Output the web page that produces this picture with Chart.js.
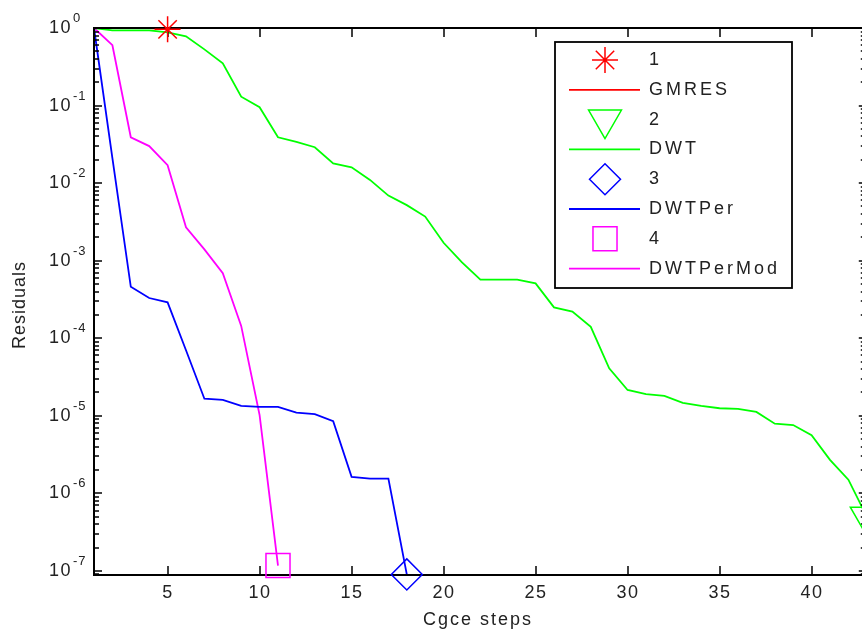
<!DOCTYPE html>
<html>
<head>
<meta charset="utf-8">
<title>Residuals</title>
<script src="https://cdn.jsdelivr.net/npm/chart.js@4.4.0/dist/chart.umd.min.js"></script>
<style>
  html, body {margin: 0; padding: 0; background: #fff;}
</style>
</head>
<body>
<canvas id="residual_plot" width="862" height="633"></canvas>
<script>
/*------------------------------------------------------*/
/**
 * @file residuals.html
 */
/*------------------------------------------------------*/

// iteration numbers and residuals per method
const gmres_steps = [1, 2, 3, 4, 5];
const gmres_res   = [1, 1, 1, 1, 0.96];

const dwt_steps = [1, 2, 3, 4, 5, 6, 7, 8, 9, 10, 11, 12, 13, 14, 15, 16, 17, 18, 19, 20, 21,
                   22, 23, 24, 25, 26, 27, 28, 29, 30, 31, 32, 33, 34, 35, 36, 37, 38, 39, 40, 41, 42, 43];
const dwt_res   = [1, 0.93, 0.93, 0.93, 0.88, 0.78, 0.53, 0.35, 0.13, 0.095, 0.039, 0.034, 0.029,
                   0.018, 0.016, 0.011, 0.0069, 0.0052, 0.0037, 0.0017, 0.00095, 0.00057, 0.00057,
                   0.00057, 0.00051, 0.00025, 0.00022, 0.00014, 4.1e-5, 2.15e-5, 1.9e-5, 1.8e-5,
                   1.47e-5, 1.34e-5, 1.25e-5, 1.23e-5, 1.12e-5, 7.9e-6, 7.6e-6, 5.6e-6, 2.7e-6,
                   1.5e-6, 5e-7];

const dwtper_steps = [1, 2, 3, 4, 5, 6, 7, 8, 9, 10, 11, 12, 13, 14, 15, 16, 17, 18];
const dwtper_res   = [1, 0.021, 4.6e-4, 3.3e-4, 2.9e-4, 7e-5, 1.66e-5, 1.6e-5, 1.34e-5, 1.3e-5,
                      1.3e-5, 1.1e-5, 1.05e-5, 8.5e-6, 1.63e-6, 1.55e-6, 1.55e-6, 9e-8];

const dwtpermod_steps = [1, 2, 3, 4, 5, 6, 7, 8, 9, 10, 11];
const dwtpermod_res   = [1, 0.6, 0.039, 0.03, 0.017, 0.0027, 0.0014, 6.9e-4, 1.44e-4, 1.02e-5, 1.17e-7];

// axis ticks; the figure is cropped just before the right axis at step 43
const x_ticks = [5, 10, 15, 20, 25, 30, 35, 40];
const x_axis_end = 43;
const y_exponents = [0, -1, -2, -3, -4, -5, -6, -7];

// legend labels, in the order MATLAB listed them
const legend_labels = ['1', 'GMRES', '2', 'DWT', '3', 'DWTPer', '4', 'DWTPerMod'];

/**
 * @name to_points
 * @description zip steps and residuals into {x, y}
 */
const to_points = (steps, values) => steps.map((s, i) => ({x: s, y: values[i]}));
const last_point = (steps, values) => to_points(steps, values).slice(-1);

const line_w = 1.8;
const text_color = '#222';
const font_face = '"Liberation Sans", Arial, sans-serif';

/**
 * @name marker_set / line_set
 * @description marker-only dataset at the last iterate, and the plain line
 */
const marker_set = (label, pts, color, style, radius, rotation) => ({
    label: label, data: pts, showLine: false, order: 1, clip: false,
    borderColor: color, backgroundColor: 'rgba(0,0,0,0)',
    pointStyle: style, pointRadius: radius, pointRotation: rotation || 0,
    pointBorderWidth: 1.5, pointBorderColor: color, pointBackgroundColor: 'rgba(0,0,0,0)'
});
const line_set = (label, pts, color) => ({
    label: label, data: pts, borderColor: color, borderWidth: line_w, order: 2, clip: false,
    pointRadius: 0, tension: 0, fill: false
});

const datasets = [
    marker_set(legend_labels[0], last_point(gmres_steps, gmres_res), '#ff0000', 'star', 13),
    line_set(legend_labels[1], to_points(gmres_steps, gmres_res), '#ff0000'),
    marker_set(legend_labels[2], last_point(dwt_steps, dwt_res), '#00ff00', 'triangle', 19, 180),
    line_set(legend_labels[3], to_points(dwt_steps, dwt_res), '#00ff00'),
    marker_set(legend_labels[4], last_point(dwtper_steps, dwtper_res), '#0000ff', 'rectRot', 15.5),
    line_set(legend_labels[5], to_points(dwtper_steps, dwtper_res), '#0000ff'),
    marker_set(legend_labels[6], last_point(dwtpermod_steps, dwtpermod_res), '#ff00ff', 'rect', 17),
    line_set(legend_labels[7], to_points(dwtpermod_steps, dwtpermod_res), '#ff00ff')
];

/**
 * @name put_text
 * @description canvas text with the wide MATLAB letter spacing
 */
function put_text(ctx, text, x, y, size, align, gap) {
    ctx.font = size + 'px ' + font_face;
    ctx.letterSpacing = (gap === undefined ? 1.5 : gap) + 'px';
    ctx.textAlign = align;
    ctx.textBaseline = 'middle';
    ctx.fillStyle = text_color;
    ctx.fillText(text, x, y);
}

const seg = (ctx, x1, y1, x2, y2) => { ctx.beginPath(); ctx.moveTo(x1, y1); ctx.lineTo(x2, y2); ctx.stroke(); };

/**
 * @name draw_frame
 * @description box (right side falls off the canvas), inward ticks and tick labels
 */
function draw_frame(chart) {
    const ctx = chart.ctx;
    const a = chart.chartArea;
    const xs = chart.scales.x;
    const ys = chart.scales.y;
    const right = xs.getPixelForValue(x_axis_end);
    ctx.save();
    ctx.strokeStyle = '#000';
    ctx.lineWidth = 2;
    ctx.strokeRect(a.left, a.top, right - a.left, a.bottom - a.top);

    // x ticks top and bottom
    ctx.lineWidth = 1.5;
    x_ticks.forEach(v => {
        const px = Math.round(xs.getPixelForValue(v));
        seg(ctx, px, a.bottom, px, a.bottom - 9);
        seg(ctx, px, a.top, px, a.top + 9);
        put_text(ctx, String(v), px, 593, 18, 'center', 1.5);
    });

    // y ticks, majors and log minors, left and right
    y_exponents.forEach(e => {
        const py = Math.round(ys.getPixelForValue(Math.pow(10, e)));
        seg(ctx, a.left, py, a.left + 8, py);
        seg(ctx, right, py, right - 8, py);
        put_text(ctx, '10', 72, py, 18, 'right', 1.5);
        put_text(ctx, String(e), 73, py - 10, 13, 'left', 1);
        [2, 3, 4, 5, 6, 7, 8, 9].forEach(m => {
            const v = m * Math.pow(10, e - 1);
            if (v < ys.min) return;
            const pm = Math.round(ys.getPixelForValue(v));
            seg(ctx, a.left, pm, a.left + 5, pm);
            seg(ctx, right, pm, right - 6, pm);
        });
    });

    // axis titles
    put_text(ctx, 'Cgce steps', 478, 620, 18, 'center', 2);
    ctx.save();
    ctx.translate(20, 305);
    ctx.rotate(-Math.PI / 2);
    put_text(ctx, 'Residuals', 0, 0, 18, 'center', 1);
    ctx.restore();
    ctx.restore();
}

/**
 * @name axes_box
 * @description MATLAB style box drawn under the markers, legend on top
 */
const axes_box = {
    id: 'axes_box',
    beforeDraw(chart) { chart.$frame_done = false; },
    beforeDatasetDraw(chart, args) {
        if (!chart.$frame_done && chart.data.datasets[args.index].showLine === false) {
            draw_frame(chart);
            chart.$frame_done = true;
        }
    },
    afterDatasetsDraw(chart) {
        if (!chart.$frame_done) draw_frame(chart);
        const ctx = chart.ctx;
        ctx.save();
        // legend box
        const lx = 555, ly = 42, lw = 237, lh = 246;
        ctx.fillStyle = '#fff';
        ctx.fillRect(lx, ly, lw, lh);
        ctx.strokeStyle = '#000';
        ctx.lineWidth = 1.8;
        ctx.strokeRect(lx, ly, lw, lh);
        chart.data.datasets.forEach((ds, i) => {
            const cy = 60 + i * 29.8;
            ctx.strokeStyle = ds.borderColor;
            if (ds.showLine === false) {
                ctx.fillStyle = 'rgba(0,0,0,0)';
                ctx.lineWidth = ds.pointBorderWidth;
                Chart.helpers.drawPoint(ctx, {
                    pointStyle: ds.pointStyle, radius: ds.pointRadius,
                    rotation: ds.pointRotation, borderWidth: ds.pointBorderWidth
                }, 605, cy);
            } else {
                ctx.lineWidth = ds.borderWidth;
                seg(ctx, 569, cy, 640, cy);
            }
            put_text(ctx, ds.label, 649, cy, 18, 'left', 3);
        });
        ctx.restore();
    }
};

/**
 * @name config_plot
 */
const config_plot = {
    type: 'line',
    data: {datasets: datasets},
    options: {
        responsive: false,
        animation: false,
        events: [],
        layout: {autoPadding: false, padding: {left: 94, top: 28, right: 0, bottom: 58}},
        plugins: {legend: {display: false}, tooltip: {enabled: false}},
        scales: {
            x: {type: 'linear', min: 1, max: 42.74, display: false},
            y: {type: 'logarithmic', min: 8.85e-8, max: 1, display: false}
        }
    },
    plugins: [axes_box]
};

const chart_plot = new Chart(document.getElementById('residual_plot'), config_plot);
</script>
</body>
</html>
